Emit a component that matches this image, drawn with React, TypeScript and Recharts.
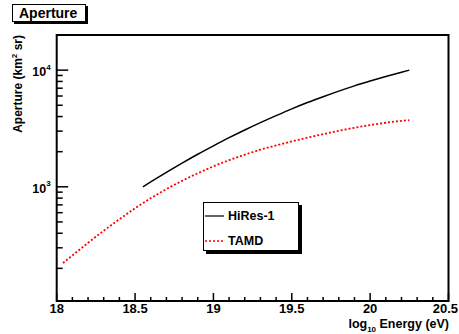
import { LineChart, Line, XAxis, YAxis, ReferenceArea } from 'recharts';

// log10 energy (eV) and aperture (km^2 sr)
const hiresEnergy = [18.55, 18.6, 18.7, 18.8, 18.9, 19.0, 19.1, 19.2, 19.3, 19.4, 19.5, 19.6, 19.7, 19.8, 19.9, 20.0, 20.1, 20.2, 20.25];
const hiresAperture = [1000, 1102, 1330, 1596, 1901, 2244, 2636, 3069, 3548, 4074, 4656, 5272, 5916, 6607, 7328, 8054, 8810, 9594, 10000];

const tamdEnergy = [18.04, 18.1, 18.2, 18.3, 18.4, 18.5, 18.6, 18.7, 18.8, 18.9, 19.0, 19.1, 19.2, 19.3, 19.4, 19.5, 19.6, 19.7, 19.8, 19.9, 20.0, 20.1, 20.2, 20.25];
const tamdAperture = [222, 258, 331, 420, 527, 655, 798, 955, 1125, 1306, 1496, 1690, 1884, 2080, 2265, 2449, 2636, 2825, 3020, 3206, 3381, 3540, 3673, 3724];

const xTicks = [18, 18.1, 18.2, 18.3, 18.4, 18.5, 18.6, 18.7, 18.8, 18.9, 19, 19.1, 19.2, 19.3, 19.4, 19.5, 19.6, 19.7, 19.8, 19.9, 20, 20.1, 20.2, 20.3, 20.4, 20.5];
const xMajorLabels: Record<string, string> = { '18': '18', '18.5': '18.5', '19': '19', '19.5': '19.5', '20': '20', '20.5': '20.5' };

const yTicks = [200, 300, 400, 500, 600, 700, 800, 900, 1000, 2000, 3000, 4000, 5000, 6000, 7000, 8000, 9000, 10000];
const yMajorExponents: Record<string, string> = { '1000': '3', '10000': '4' };

const hiresData = hiresEnergy.map((e, i) => ({ e, a: hiresAperture[i] }));
const tamdData = tamdEnergy.map((e, i) => ({ e, a: tamdAperture[i] }));

const FONT = '"Liberation Sans", Arial, Helvetica, sans-serif';

function XTick(props: any) {
  const { x, y, payload } = props;
  const label = xMajorLabels[String(payload.value)];
  const last = payload.value === 20.5;
  return (
    <g>
      <line x1={x} x2={x} y1={y} y2={y - (label ? 8 : 4)} stroke="#000" strokeWidth={1.5} />
      {label && (
        <text
          x={last ? 458 : x}
          y={y + 11.5}
          textAnchor={last ? 'end' : 'middle'}
          fontSize={13}
          fontWeight="bold"
          fontFamily={FONT}
          fill="#000"
        >
          {label}
        </text>
      )}
    </g>
  );
}

function YTick(props: any) {
  const { x, y, payload } = props;
  const exp = yMajorExponents[String(payload.value)];
  return (
    <g>
      <line x1={x} x2={x + (exp ? 11.5 : 6)} y1={y} y2={y} stroke="#000" strokeWidth={1.5} />
      {exp && (
        <text x={x - 6} y={y + 6} textAnchor="end" fontSize={12.5} fontWeight="bold" fontFamily={FONT} fill="#000">
          10<tspan fontSize={8} dy={-6.5}>{exp}</tspan>
        </text>
      )}
    </g>
  );
}

function LegendBox() {
  const row = { display: 'flex', alignItems: 'center', height: 25 } as const;
  return (
    <div
      style={{
        position: 'absolute',
        left: 203,
        top: 202,
        width: 96,
        height: 49,
        border: '1px solid #000',
        boxShadow: '3px 3px 0 #000',
        background: '#fff',
        fontFamily: FONT,
        fontWeight: 'bold',
        fontSize: 12.5,
        boxSizing: 'border-box',
      }}
    >
      <div style={row}>
        <svg width={24} height={10}>
          <line x1={1} x2={20} y1={5} y2={5} stroke="#000" strokeWidth={1.2} />
        </svg>
        <span>HiRes-1</span>
      </div>
      <div style={row}>
        <svg width={24} height={10}>
          <line x1={1} x2={20} y1={5} y2={5} stroke="#ff0000" strokeWidth={1.5} strokeDasharray="2 2" />
        </svg>
        <span>TAMD</span>
      </div>
    </div>
  );
}

export default function App() {
  return (
    <div style={{ position: 'absolute', left: 0, top: 0, width: 459, height: 334, background: '#fff', fontFamily: FONT }}>
      <LineChart width={459} height={334} margin={{ top: 35, right: 10.5, bottom: 0, left: 0 }}>
        <XAxis
          type="number"
          dataKey="e"
          domain={[18, 20.5]}
          ticks={xTicks}
          interval={0}
          allowDataOverflow
          height={33}
          axisLine={false}
          tickLine={false}
          tickSize={0}
          tickMargin={0}
          tick={<XTick />}
        />
        <YAxis
          type="number"
          scale="log"
          domain={[105, 20000]}
          ticks={yTicks}
          interval={0}
          allowDataOverflow
          width={56.7}
          axisLine={false}
          tickLine={false}
          tickSize={0}
          tickMargin={0}
          tick={<YTick />}
        />
        <ReferenceArea x1={18} x2={20.5} y1={105} y2={20000} fill="none" stroke="#000" strokeWidth={2} />
        <Line data={hiresData} dataKey="a" type="monotone" stroke="#000" strokeWidth={1.5} dot={false} isAnimationActive={false} />
        <Line data={tamdData} dataKey="a" type="monotone" stroke="#ff0000" strokeWidth={1.8} strokeDasharray="2 2" dot={false} isAnimationActive={false} />
      </LineChart>
      <LegendBox />
      <svg width={459} height={334} style={{ position: 'absolute', left: 0, top: 0, pointerEvents: 'none' }}>
        <text
          transform="translate(22,35) rotate(-90)"
          textAnchor="end"
          fontSize={12}
          fontWeight="bold"
          fontFamily={FONT}
          fill="#000"
        >
          Aperture (km<tspan fontSize={8} dy={-5}>2</tspan>
          <tspan dy={5}> sr)</tspan>
        </text>
        <text x={449} y={327.5} textAnchor="end" fontSize={12.5} fontWeight="bold" fontFamily={FONT} fill="#000">
          log<tspan fontSize={8} dy={4}>10</tspan>
          <tspan dy={-4}> Energy (eV)</tspan>
        </text>
      </svg>
      <div
        style={{
          position: 'absolute',
          left: 12,
          top: 4,
          width: 74,
          height: 18,
          border: '1px solid #000',
          boxShadow: '2px 2px 0 #000',
          background: '#fff',
          fontSize: 14,
          fontWeight: 'bold',
          lineHeight: '16px',
          paddingLeft: 6,
          boxSizing: 'border-box',
        }}
      >
        Aperture
      </div>
    </div>
  );
}
